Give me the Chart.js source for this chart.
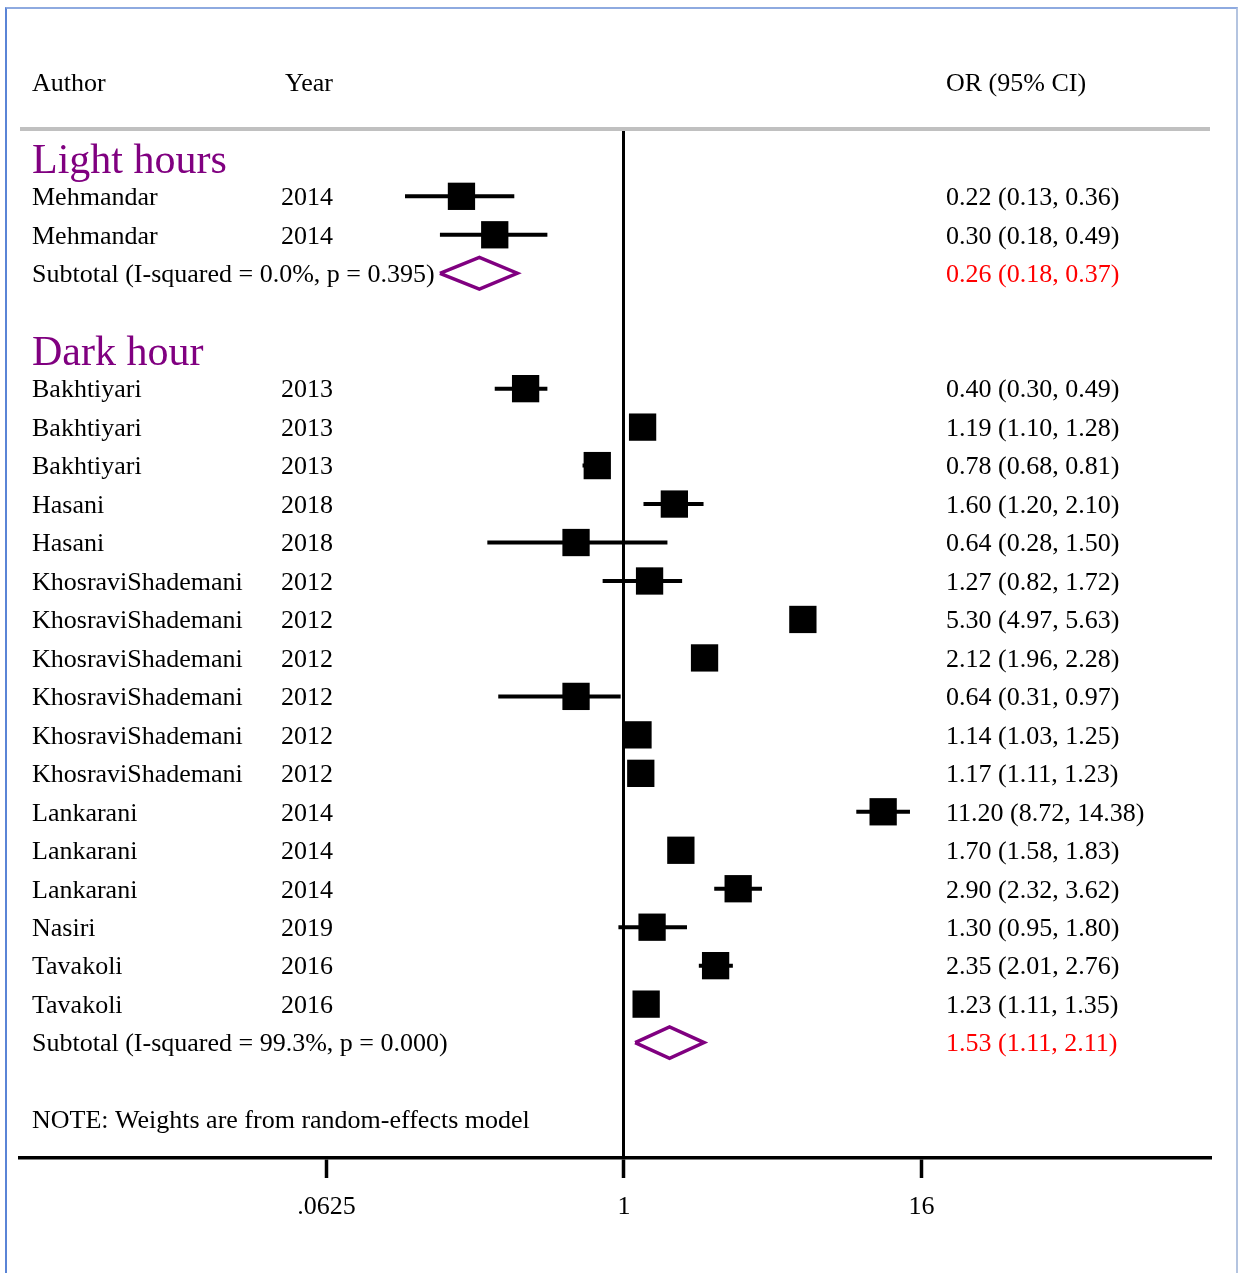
<!DOCTYPE html>
<html>
<head>
<meta charset="utf-8">
<script src="https://cdn.jsdelivr.net/npm/chart.js@4.4.1/dist/chart.umd.min.js"></script>
<style>
  body { margin: 0; background: #fff; }
  #wrap { position: relative; width: 1240px; height: 1273px; }
  #frame { position: absolute; left: 5px; top: 7px; width: 1229px; height: 1270px;
           border-left: 2px solid #5a84d6; border-top: 2px solid #8eaae0; border-right: 2px solid #b4c4e0;
           pointer-events: none; }
</style>
</head>
<body>
<div id="wrap">
  <canvas id="forest" width="1240" height="1273"></canvas>
  <div id="frame"></div>
</div>
<script>
// data
const groups = ['Light hours', 'Dark hour'];
const authors = ['Mehmandar', 'Mehmandar',
  'Bakhtiyari', 'Bakhtiyari', 'Bakhtiyari', 'Hasani', 'Hasani',
  'KhosraviShademani', 'KhosraviShademani', 'KhosraviShademani', 'KhosraviShademani',
  'KhosraviShademani', 'KhosraviShademani', 'Lankarani', 'Lankarani', 'Lankarani',
  'Nasiri', 'Tavakoli', 'Tavakoli'];
const years = [2014, 2014, 2013, 2013, 2013, 2018, 2018, 2012, 2012, 2012, 2012, 2012, 2012,
  2014, 2014, 2014, 2019, 2016, 2016];
const groupOf = [0, 0, 1, 1, 1, 1, 1, 1, 1, 1, 1, 1, 1, 1, 1, 1, 1, 1, 1];
const oddsRatio = [0.22, 0.30, 0.40, 1.19, 0.78, 1.60, 0.64, 1.27, 5.30, 2.12, 0.64, 1.14, 1.17,
  11.20, 1.70, 2.90, 1.30, 2.35, 1.23];
const ciLow = [0.13, 0.18, 0.30, 1.10, 0.68, 1.20, 0.28, 0.82, 4.97, 1.96, 0.31, 1.03, 1.11,
  8.72, 1.58, 2.32, 0.95, 2.01, 1.11];
const ciHigh = [0.36, 0.49, 0.49, 1.28, 0.81, 2.10, 1.50, 1.72, 5.63, 2.28, 0.97, 1.25, 1.23,
  14.38, 1.83, 3.62, 1.80, 2.76, 1.35];
const subtotalLabels = ['Subtotal (I-squared = 0.0%, p = 0.395)', 'Subtotal (I-squared = 99.3%, p = 0.000)'];
const subtotalOR = [0.26, 1.53];
const subtotalLow = [0.18, 1.11];
const subtotalHigh = [0.37, 2.11];
const tickValues = [0.0625, 1, 16];
const tickLabels = ['.0625', '1', '16'];
const noteText = 'NOTE: Weights are from random-effects model';

// layout of rows
const titleRow = [], studyRow = [], subtotalRow = [];
let r = -1;
groups.forEach((g, gi) => {
  titleRow.push(r); r++;
  groupOf.forEach((gg, i) => { if (gg === gi) { studyRow[i] = r; r++; } });
  subtotalRow.push(r);
  r += 2;
});
const noteRow = r;

const fmt = (o, l, h) => o.toFixed(2) + ' (' + l.toFixed(2) + ', ' + h.toFixed(2) + ')';
const FONT = '"Liberation Serif", "Times New Roman", serif';
const PURPLE = '#800080';
const DIAMOND_H = 0.41;

// CI segments, broken with NaN
const ciPoints = [];
oddsRatio.forEach((o, i) => {
  ciPoints.push({ x: ciLow[i], y: studyRow[i] }, { x: ciHigh[i], y: studyRow[i] }, { x: NaN, y: NaN });
});
const boxPoints = oddsRatio.map((o, i) => ({ x: o, y: studyRow[i] }));
const diamondPoints = [];
subtotalOR.forEach((o, k) => {
  const y = subtotalRow[k];
  diamondPoints.push({ x: subtotalLow[k], y: y }, { x: o, y: y - DIAMOND_H },
    { x: subtotalHigh[k], y: y }, { x: o, y: y + DIAMOND_H }, { x: subtotalLow[k], y: y },
    { x: NaN, y: NaN });
});

const textPlugin = {
  id: 'forestText',
  beforeDatasetsDraw(chart) {
    const ctx = chart.ctx, a = chart.chartArea;
    ctx.save();
    ctx.strokeStyle = '#c0c0c0';
    ctx.lineWidth = 4;
    ctx.beginPath();
    ctx.moveTo(a.left, a.top);
    ctx.lineTo(a.right, a.top);
    ctx.stroke();
    ctx.restore();
  },
  afterDatasetsDraw(chart) {
    const ctx = chart.ctx;
    const ys = chart.scales.y;
    const py = row => ys.getPixelForValue(row) + 2;
    ctx.save();
    ctx.textBaseline = 'middle';
    ctx.textAlign = 'left';
    ctx.font = '26px ' + FONT;
    ctx.fillStyle = '#000';
    ctx.fillText('Author', 32, py(-3) + 1);
    ctx.fillText('Year', 285, py(-3) + 1);
    ctx.fillText('OR (95% CI)', 946, py(-3) + 1);
    oddsRatio.forEach((o, i) => {
      ctx.fillText(authors[i], 32, py(studyRow[i]));
      ctx.fillText(String(years[i]), 281, py(studyRow[i]));
      ctx.fillText(fmt(o, ciLow[i], ciHigh[i]), 946, py(studyRow[i]));
    });
    subtotalOR.forEach((o, k) => {
      ctx.fillStyle = '#000';
      ctx.fillText(subtotalLabels[k], 32, py(subtotalRow[k]));
      ctx.fillStyle = '#ff0000';
      ctx.fillText(fmt(o, subtotalLow[k], subtotalHigh[k]), 946, py(subtotalRow[k]));
    });
    ctx.fillStyle = '#000';
    ctx.fillText(noteText, 32, py(noteRow));
    ctx.font = '42px ' + FONT;
    ctx.fillStyle = PURPLE;
    groups.forEach((g, gi) => ctx.fillText(g, 32, py(titleRow[gi]) + 2));
    ctx.restore();
  }
};

const ctx = document.getElementById('forest').getContext('2d');
new Chart(ctx, {
  type: 'scatter',
  data: {
    datasets: [
      { data: ciPoints, showLine: true, spanGaps: false, borderColor: '#000', borderWidth: 4,
        pointRadius: 0, borderCapStyle: 'butt' },
      { data: boxPoints, pointStyle: 'rect', pointRadius: 19.3, backgroundColor: '#000',
        borderWidth: 0 },
      { data: diamondPoints, showLine: true, spanGaps: false, borderColor: PURPLE, borderWidth: 3.5,
        pointRadius: 0, borderJoinStyle: 'miter', fill: false }
    ]
  },
  options: {
    responsive: false,
    animation: false,
    layout: { padding: { left: 20, right: 30, top: 129, bottom: 0 } },
    plugins: { legend: { display: false }, tooltip: { enabled: false } },
    scales: {
      x: {
        type: 'logarithmic',
        min: Math.pow(2, -8.12),
        max: Math.pow(2, 7.88),
        afterBuildTicks: scale => { scale.ticks = tickValues.map(v => ({ value: v })); },
        afterFit: scale => { scale.height = 115; },
        ticks: {
          autoSkip: false,
          maxRotation: 0,
          padding: 14,
          color: '#000',
          font: { family: FONT, size: 26 },
          callback: (v, i) => tickLabels[i]
        },
        grid: {
          color: c => (c.tick && c.tick.value === 1 ? '#000' : 'rgba(0,0,0,0)'),
          lineWidth: 3,
          tickColor: '#000',
          tickWidth: 3.5,
          tickLength: 20
        },
        border: { display: true, color: '#000', width: 3.5 }
      },
      y: {
        type: 'linear',
        reverse: true,
        min: -1.75,
        max: 25,
        display: false
      }
    }
  },
  plugins: [textPlugin]
});
</script>
</body>
</html>
